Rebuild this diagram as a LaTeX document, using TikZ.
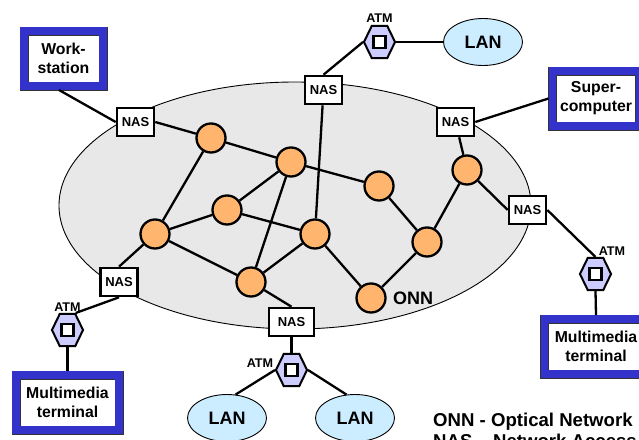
\documentclass[tikz,border=0pt]{standalone}
\usepackage{fontspec}
\setmainfont{Liberation Sans}
\usetikzlibrary{
    shapes.geometric, % for the hexagons and the ellipses
    positioning
}
\definecolor{onngray}{RGB}{232,232,232}
\definecolor{nodeorange}{RGB}{255,181,110}
\definecolor{lanblue}{RGB}{204,236,255}
\definecolor{atmviolet}{RGB}{204,204,255}
\definecolor{termblue}{RGB}{51,51,204}

\begin{document}
\begin{tikzpicture}[
    x=1pt,y=-1pt,
    link/.style     = {line width=2.3pt},
    onn/.style      = {circle,draw,line width=2.3pt,fill=nodeorange,minimum size=29pt,inner sep=0pt},
    nas/.style      = {rectangle,draw,line width=2.6pt,fill=white,minimum width=37pt,minimum height=28pt,inner sep=0pt,font=\fontsize{13}{15}\selectfont\bfseries},
    atm/.style      = {regular polygon,regular polygon sides=6,draw,line width=2pt,fill=atmviolet,minimum size=37pt,inner sep=0pt,xscale=.84},
    atm box/.style  = {rectangle,draw,line width=2.6pt,fill=white,minimum size=12pt,inner sep=0pt},
    atm text/.style = {inner sep=0pt,font=\fontsize{12.6}{15}\selectfont\bfseries},
    lan/.style      = {ellipse,draw,line width=.9pt,fill=lanblue,minimum width=79pt,minimum height=47pt,inner sep=0pt,font=\fontsize{18}{20}\selectfont\bfseries},
    terminal/.style = {rectangle,draw=black!80,line width=.9pt,double=termblue,double distance=7.2pt,fill=white,outer sep=4pt,inner sep=0pt,align=center,font=\fontsize{15.8}{19}\selectfont\bfseries},
    legend/.style   = {inner sep=0pt,anchor=base west,font=\fontsize{18.6}{20}\selectfont\bfseries}
]
\useasboundingbox (0,0) rectangle (639,439);

% optical network cloud
    \node [ellipse,draw,line width=.9pt,fill=onngray,minimum width=472pt,minimum height=247pt,inner sep=0pt] (cloud) at (295,205.5) {};

% access servers
    \node [nas] (nasA) at (135.5,122) {NAS};
    \node [nas] (nasB) at (323.5,90)  {NAS};
    \node [nas] (nasC) at (455.5,122) {NAS};
    \node [nas] (nasD) at (527.5,210) {NAS};
    \node [nas] (nasE) at (119,282)   {NAS};
    \node [nas,minimum width=45pt] (nasF) at (291.5,322) {NAS};

% optical nodes
    \node [onn] (n1)  at (211,138) {};
    \node [onn] (n2)  at (291,162) {};
    \node [onn] (n3)  at (227,210) {};
    \node [onn] (n4)  at (155,234) {};
    \node [onn] (n5)  at (251,282) {};
    \node [onn] (n6)  at (315,234) {};
    \node [onn] (n7)  at (379,186) {};
    \node [onn] (n8)  at (467,170) {};
    \node [onn] (n9)  at (427,242) {};
    \node [onn] (n10) at (371,298) {};
    \node [inner sep=0pt,font=\fontsize{18}{20}\selectfont\bfseries] (onnlabel) at (413,298.5) {ONN};

% ATM switches
    \node [atm] (atmA) at (379.5,42) {};
    \node [atm] (atmB) at (67.5,330) {};
    \node [atm] (atmC) at (291.5,370) {};
    \node [atm] (atmD) at (595.5,274) {};
    \node [atm box] (boxA) at (atmA) {};
    \node [atm box] (boxB) at (atmB) {};
    \node [atm box] (boxC) at (atmC) {};
    \node [atm box] (boxD) at (atmD) {};
    \node [atm text] (textA) at (379.5,18)  {ATM};
    \node [atm text] (textB) at (67.5,307.5) {ATM};
    \node [atm text] (textC) at (260,363)   {ATM};
    \node [atm text] (textD) at (612,251)   {ATM};

% LANs
    \node [lan] (lanA) at (483,42)  {LAN};
    \node [lan] (lanB) at (227,418) {LAN};
    \node [lan] (lanC) at (355,418) {LAN};

% terminals
    \node [terminal,minimum width=79pt,minimum height=55pt]  (work)  at (63.5,58.5)  {Work-\\station};
    \node [terminal,minimum width=87pt,minimum height=55pt]  (super) at (596,98.5)   {Super-\\computer};
    \node [terminal,minimum width=103pt,minimum height=55pt] (mmA)   at (596,346.5)  {Multimedia\\terminal};
    \node [terminal,minimum width=103pt,minimum height=55pt] (mmB)   at (67.5,402.5) {Multimedia\\terminal};

% links inside the network
    \draw [link] (nasA.east) -- (n1);
    \draw [link] (n1) -- (n2);
    \draw [link] (n1) -- (n4);
    \draw [link] (n2) -- (n3);
    \draw [link] (n2) -- (n5);
    \draw [link] (n2) -- (n7);
    \draw [link] (n3) -- (n4);
    \draw [link] (n3) -- (n6);
    \draw [link] (n4) -- (n5);
    \draw [link] (n5) -- (n6);
    \draw [link] (n6) -- (n10);
    \draw [link] (n7) -- (n9);
    \draw [link] (n8) -- (n9);
    \draw [link] (n9) -- (n10);
    \draw [link] (nasB) -- (n6);
    \draw [link] (nasC) -- (n8);
    \draw [link] (nasD.west) -- (n8);
    \draw [link] (nasE.north) -- (n4);
    \draw [link] (nasF.north) -- (n5);

% links to the outside
    \draw [link] ([xshift=-4.5pt]work.south) -- (nasA.west);
    \draw [link] (super.west) -- (nasC.east);
    \draw [link] (nasB.north) -- (atmA.west);
    \draw [link] (atmA.east) -- (lanA.west);
    \draw [link] (nasD.east) -- (atmD.north);
    \draw [link] (atmD.south) -- (mmA.north);
    \draw [link] (nasE.south) -- (atmB.corner 1);
    \draw [link] (atmB.south) -- (mmB.north);
    \draw [link] (nasF.south) -- (atmC.north);
    \draw [link] (atmC.west) -- (lanB.70);
    \draw [link] (atmC.east) -- (lanC.110);

% legend, cut off by the edge of the picture
    \node [legend] (legendA) at (433,426) {ONN - Optical Network Node};
    \node [legend] (legendB) at (433,447) {NAS – Network Access Server};
\end{tikzpicture}
\end{document}
